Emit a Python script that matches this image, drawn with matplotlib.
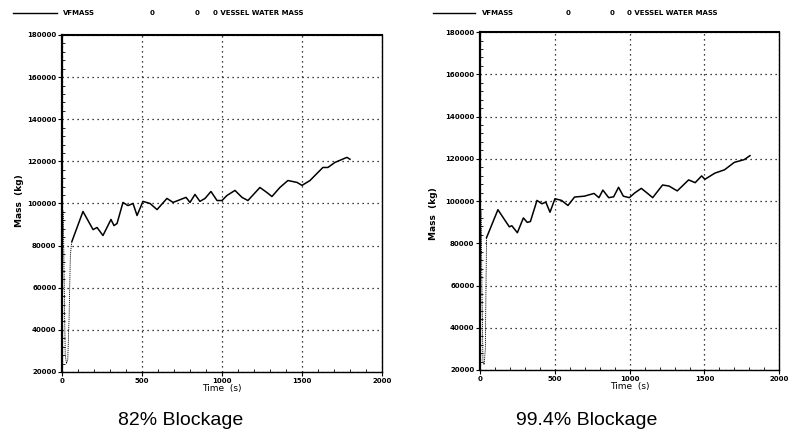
import matplotlib.pyplot as plt
from matplotlib.ticker import MultipleLocator

# 82% blockage - vessel water mass (kg) vs time (s)
t_82 = [0, 8, 14, 20, 28, 36, 44, 52, 58, 62, 131, 194, 219, 256, 306, 325, 344, 381,
        412, 444, 469, 506, 550, 594, 656, 694, 775, 800, 831, 862, 894, 931, 969,
        1000, 1031, 1081, 1125, 1162, 1237, 1281, 1312, 1362, 1412, 1469, 1500,
        1550, 1594, 1631, 1662, 1706, 1781, 1800]
m_82 = [98000, 96000, 60000, 28000, 24000, 26000, 45000, 75000, 80000, 82000, 96200,
        87600, 88600, 84800, 92400, 89500, 90500, 100500, 99000, 100000, 94300,
        101000, 100000, 97100, 102400, 100500, 102900, 100500, 104300, 101000,
        102400, 105700, 101400, 101400, 103800, 106200, 102900, 101400, 107600,
        105200, 103300, 107600, 110900, 110000, 108600, 110900, 114300, 117100,
        117100, 119500, 121900, 121000]

# 99.4% blockage
t_994 = [0, 8, 14, 20, 28, 36, 42, 44, 120, 196, 213, 250, 290, 316, 337, 381, 414,
         440, 468, 501, 545, 588, 632, 697, 762, 795, 821, 860, 893, 926, 958, 998,
         1035, 1078, 1115, 1154, 1220, 1263, 1318, 1394, 1438, 1481, 1503, 1569,
         1634, 1699, 1765, 1804]
m_994 = [98000, 95000, 55000, 24000, 22500, 30000, 70000, 82650, 95900, 87800, 88300,
         85000, 92000, 89900, 90300, 100300, 98700, 99500, 94700, 101100, 100300,
         97900, 101900, 102300, 103600, 101600, 105200, 101600, 102000, 106500,
         102300, 101600, 103900, 106000, 103900, 101600, 107600, 107100, 104800,
         110000, 108700, 111900, 110300, 113200, 114800, 118300, 119600, 121500]

n_early_82 = 10
n_early_994 = 8

fig = plt.figure(figsize=(7.92, 4.36), dpi=100)

panels = [
    ([0.0783, 0.1468, 0.404, 0.773], t_82, m_82, n_early_82, "82% Blockage", 0.228),
    ([0.606, 0.1514, 0.378, 0.775], t_994, m_994, n_early_994, "99.4% Blockage", 0.741),
]

for rect, t, m, ne, caption, cx in panels:
    ax = fig.add_axes(rect)
    ax.plot(t[:ne], m[:ne], color='k', lw=0.6, ls=(0, (1.5, 1)))
    ax.plot(t[ne - 1:], m[ne - 1:], color='k', lw=1.1)
    ax.set_xlim(0, 2000)
    ax.set_ylim(20000, 180000)
    ax.xaxis.set_major_locator(MultipleLocator(500))
    ax.xaxis.set_minor_locator(MultipleLocator(100))
    ax.yaxis.set_major_locator(MultipleLocator(20000))
    ax.yaxis.set_minor_locator(MultipleLocator(4000))
    ax.tick_params(which='major', direction='out', length=3, width=0.8,
                   labelsize=5, pad=1)
    ax.tick_params(which='minor', direction='in', length=2, width=0.6)
    for lab in ax.get_xticklabels() + ax.get_yticklabels():
        lab.set_fontweight('bold')
    ax.grid(True, which='major', color='k', lw=0.9, ls=(0, (1, 3)))
    for side in ['right', 'bottom']:
        ax.spines[side].set_linewidth(1.0)
    ax.spines['top'].set_linewidth(1.5)
    ax.spines['left'].set_linewidth(1.6)
    ax.set_xlabel("Time  (s)", fontsize=6.5, labelpad=0)
    fig.text(cx, 0.036, caption, ha='center', va='center', fontsize=14,
             family='Liberation Sans')

# y labels
fig.text(0.025, 0.54, "Mass  (kg)", rotation=90, ha='center', va='center',
         fontsize=6.5, fontweight='bold')
fig.text(0.547, 0.51, "Mass  (kg)", rotation=90, ha='center', va='center',
         fontsize=6.5, fontweight='bold')

# legend headers
for x0, x1, xs in [(13, 57, (63, 150, 195, 213)), (433, 475, (482, 566, 610, 627))]:
    fig.add_artist(plt.Line2D([x0 / 792, x1 / 792], [1 - 13 / 436] * 2,
                              color='k', lw=1.0))
    y = 1 - 13 / 436
    fig.text(xs[0] / 792, y, "VFMASS", fontsize=5, fontweight='bold', va='center')
    fig.text(xs[1] / 792, y, "0", fontsize=5, fontweight='bold', va='center')
    fig.text(xs[2] / 792, y, "0", fontsize=5, fontweight='bold', va='center')
    fig.text(xs[3] / 792, y, "0 VESSEL WATER MASS", fontsize=5, fontweight='bold',
             va='center')

fig.savefig("out.png", dpi=100)
